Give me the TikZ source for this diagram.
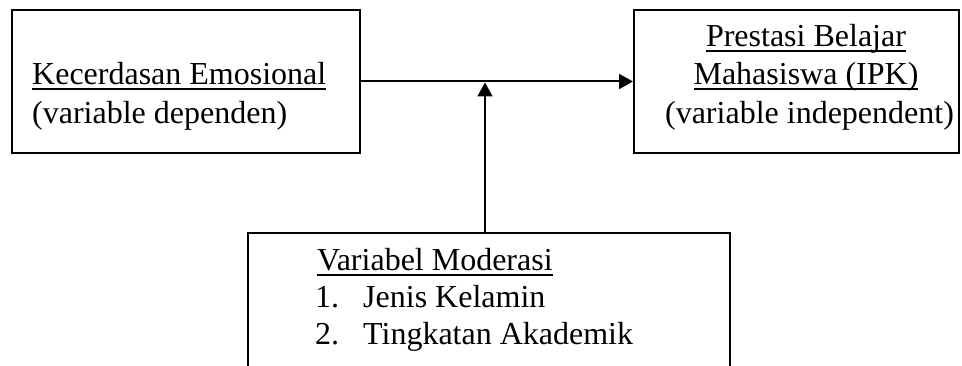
\documentclass[tikz,border=0pt]{standalone}
\usepackage{fontspec}
\setmainfont{Liberation Serif}
\usetikzlibrary{arrows.meta}
\newcommand\myul[1]{\setbox0\hbox{#1}\rlap{\vrule height -3.4pt depth 5.2pt width \wd0}\box0}
\begin{document}
\begin{tikzpicture}[x=1pt,y=-1pt,
  boxst/.style={draw,line width=2pt,rectangle,inner sep=0pt},
  txt/.style={inner sep=0pt,anchor=base west,font=\fontsize{32}{38}\selectfont},
  ctxt/.style={txt,anchor=base},
  arr/.style={-{Triangle[length=14pt,width=15pt]},line width=2pt}]
\useasboundingbox (0,0) rectangle (962,366);
\clip (0,0) rectangle (962,366);
\fill[white] (0,0) rectangle (962,366);
\node[boxst,minimum width=348pt,minimum height=143pt] (ke) at (186,81.5) {};
\node[boxst,minimum width=325pt,minimum height=143pt] (pb) at (796.5,81.5) {};
\node[boxst,minimum width=482pt,minimum height=160pt] (vm) at (489,313) {};
\coordinate (j) at (485,82.5);
\draw[arr] (ke.east) -- (pb.west);
\draw[arr,line width=1.6pt] (vm.north -| j) -- (j);
\node[txt] (t1) at (32,85) {\myul{Kecerdasan Emosional}};
\node[txt] (t2) at (32,123.5) {(variable dependen)};
\node[ctxt] (r1) at (806,47) {\myul{Prestasi Belajar}};
\node[ctxt] (r2) at (806,85) {\myul{Mahasiswa (IPK)}};
\node[ctxt] (r3) at (809.5,123.5) {(variable independent)};
\node[txt] (b1) at (317,271) {\myul{Variabel Moderasi}};
\node[txt] (b2n) at (315,308) {1.};
\node[txt] (b2) at (363,308) {Jenis Kelamin};
\node[txt] (b3n) at (315,344.5) {2.};
\node[txt] (b3) at (363,344.5) {Tingkatan Akademik};
\end{tikzpicture}
\end{document}
